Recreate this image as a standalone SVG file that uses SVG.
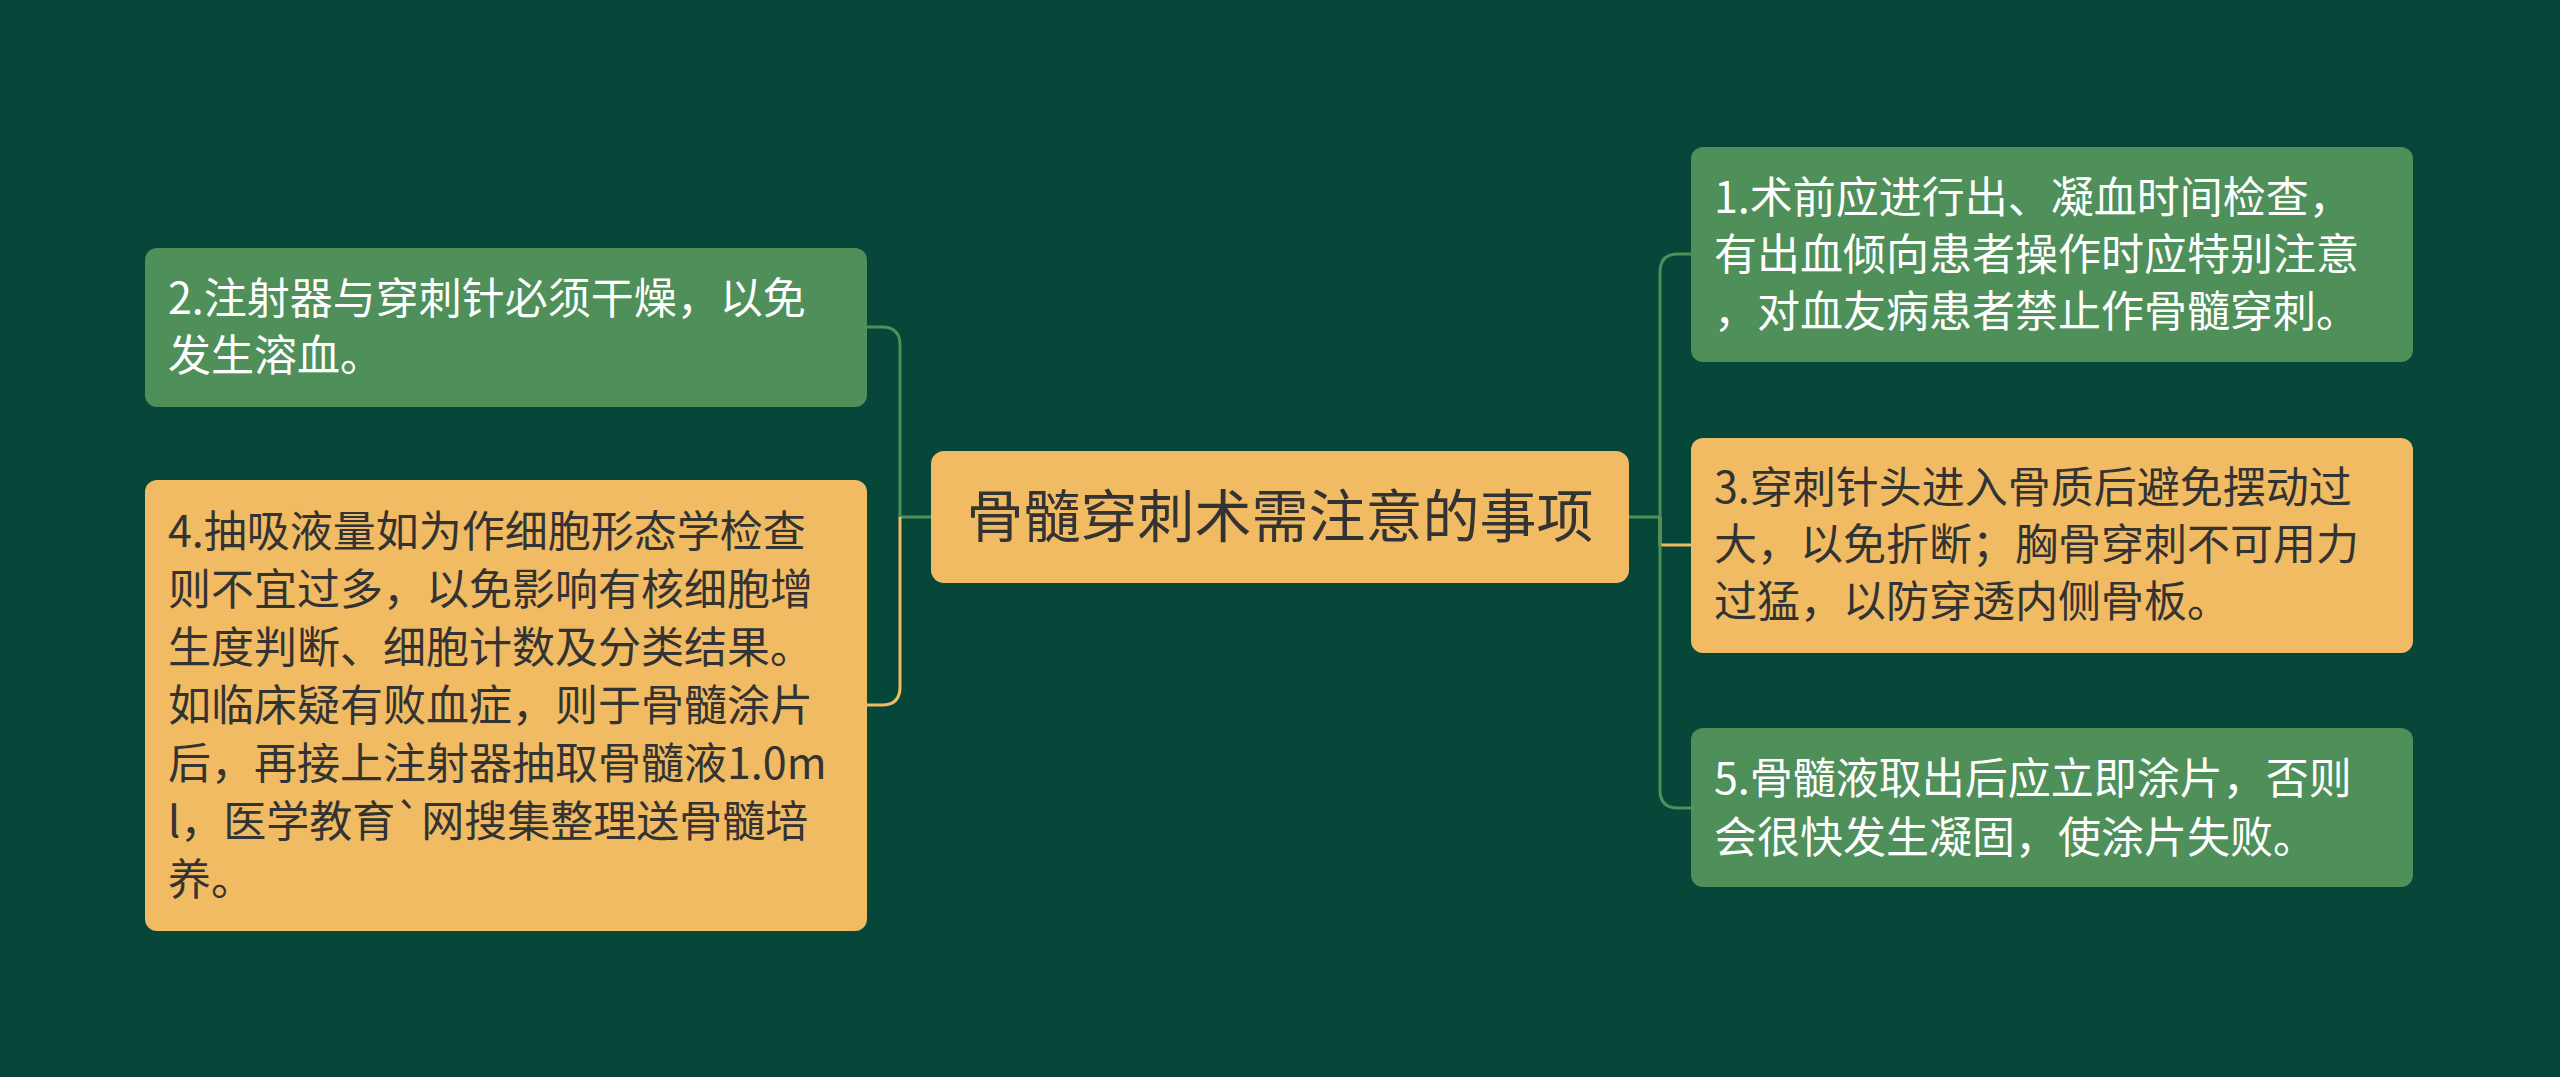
<svg xmlns="http://www.w3.org/2000/svg" width="2560" height="1077" viewBox="0 0 2560 1077">
<style>
.g{fill:#4E8F5A}.y{fill:#F0BB62}
.t{font-family:"Noto Sans CJK SC","Noto Sans",sans-serif;font-size:43px}
.big{font-size:57px}
.w{fill:#ffffff}.d{fill:#333333}
.c{fill:none;stroke-width:3}
</style>
<rect width="2560" height="1077" fill="#07473A"/>
<g id="connectors">
<path class="c" stroke="#4E8F5A" d="M931 517 H900 V345 Q900 327 882 327 H867"/>
<path class="c" stroke="#F0BB62" d="M900 517 V687 Q900 705 882 705 H867"/>
<path class="c" stroke="#4E8F5A" d="M1629 517 H1660 V272 Q1660 254 1678 254 H1691"/>
<path class="c" stroke="#F0BB62" d="M1660 517 V545 H1691"/>
<path class="c" stroke="#4E8F5A" d="M1660 517 V790 Q1660 808 1678 808 H1691"/>
</g>
<g id="center"><rect class="y" x="931" y="451" width="698" height="132" rx="13"/>
<text class="t big d" x="1280" y="537" text-anchor="middle">骨髓穿刺术需注意的事项</text></g>
<g id="n2"><rect class="g" x="145" y="248" width="722" height="159" rx="12"/>
<text class="t w" x="168" y="314">2.注射器与穿刺针必须干燥，以免</text>
<text class="t w" x="168" y="371">发生溶血。</text></g>
<g id="n4"><rect class="y" x="145" y="480" width="722" height="451" rx="12"/>
<text class="t d" x="168" y="547">4.抽吸液量如为作细胞形态学检查</text>
<text class="t d" x="168" y="605">则不宜过多，以免影响有核细胞增</text>
<text class="t d" x="168" y="663">生度判断、细胞计数及分类结果。</text>
<text class="t d" x="168" y="721">如临床疑有败血症，则于骨髓涂片</text>
<text class="t d" x="168" y="779">后，再接上注射器抽取骨髓液1.0m</text>
<text class="t d" x="168" y="837">l，医学教育`网搜集整理送骨髓培</text>
<text class="t d" x="168" y="895">养。</text></g>
<g id="n1"><rect class="g" x="1691" y="147" width="722" height="215" rx="12"/>
<text class="t w" x="1714" y="213">1.术前应进行出、凝血时间检查，</text>
<text class="t w" x="1714" y="270">有出血倾向患者操作时应特别注意</text>
<text class="t w" x="1714" y="327">，对血友病患者禁止作骨髓穿刺。</text></g>
<g id="n3"><rect class="y" x="1691" y="438" width="722" height="215" rx="12"/>
<text class="t d" x="1714" y="503">3.穿刺针头进入骨质后避免摆动过</text>
<text class="t d" x="1714" y="560">大，以免折断；胸骨穿刺不可用力</text>
<text class="t d" x="1714" y="617">过猛，以防穿透内侧骨板。</text></g>
<g id="n5"><rect class="g" x="1691" y="728" width="722" height="159" rx="12"/>
<text class="t w" x="1714" y="794">5.骨髓液取出后应立即涂片，否则</text>
<text class="t w" x="1714" y="853">会很快发生凝固，使涂片失败。</text></g>
</svg>
